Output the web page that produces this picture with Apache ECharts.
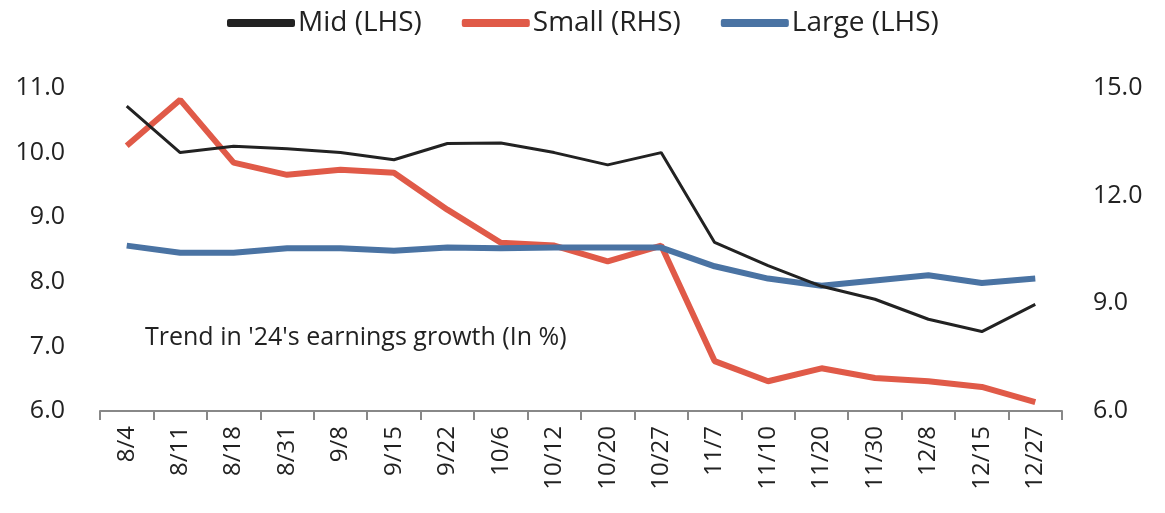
<!DOCTYPE html>
<html>
<head>
<meta charset="utf-8">
<script src="https://cdn.jsdelivr.net/npm/echarts@6/dist/echarts.min.js"></script>
<style>
  html, body { margin: 0; padding: 0; background: #fff; }
  #chart { width: 1165px; height: 513px; }
</style>
</head>
<body>
<div id="chart"></div>
<script>
// 数据
const dates = ['8/4', '8/11', '8/18', '8/31', '9/8', '9/15', '9/22', '10/6', '10/12',
  '10/20', '10/27', '11/7', '11/10', '11/20', '11/30', '12/8', '12/15', '12/27'];
const midLhs = [10.72, 10.0, 10.1, 10.06, 10.0, 9.89, 10.14, 10.15, 10.0,
  9.81, 10.0, 8.61, 8.25, 7.93, 7.73, 7.42, 7.23, 7.65];
const smallRhs = [13.39, 14.67, 12.92, 12.58, 12.72, 12.64, 11.61, 10.69, 10.61,
  10.17, 10.61, 7.39, 6.83, 7.19, 6.92, 6.83, 6.67, 6.25];
const largeLhs = [8.56, 8.45, 8.45, 8.52, 8.52, 8.48, 8.53, 8.52, 8.53,
  8.53, 8.53, 8.24, 8.05, 7.94, 8.02, 8.1, 7.98, 8.05];
const noteText = "Trend in '24's earnings growth (In %)";

const FONT = "'Open Sans', 'Noto Sans', sans-serif";

const myChart = echarts.init(document.getElementById('chart'));

const option = {
  animation: false,
  textStyle: { fontFamily: FONT },
  legend: {
    top: 4,
    left: 222,
    itemWidth: 68,
    itemHeight: 8,
    itemGap: 40,
    icon: 'roundRect',
    textStyle: { fontSize: 28, color: '#222', fontFamily: FONT, padding: [0, 0, 0, -2] },
    data: ['Mid (LHS)', 'Small (RHS)', 'Large (LHS)']
  },
  grid: {
    left: 100,
    right: 103,
    top: 88,
    bottom: 102,
    containLabel: false
  },
  xAxis: {
    type: 'category',
    data: dates,
    boundaryGap: true,
    axisLine: { lineStyle: { color: '#888', width: 2 } },
    axisTick: { show: true, interval: 0, length: 9, lineStyle: { color: '#888', width: 2 } },
    axisLabel: {
      interval: 0,
      rotate: 90,
      fontSize: 24,
      color: '#222',
      margin: 15,
      fontFamily: FONT
    },
    splitLine: { show: false }
  },
  yAxis: [
    {
      type: 'value',
      min: 6,
      max: 11,
      interval: 1,
      axisLine: { show: false },
      axisTick: { show: false },
      splitLine: { show: false },
      axisLabel: {
        fontSize: 25,
        color: '#222',
        margin: 35,
        fontFamily: FONT,
        formatter: (v) => v.toFixed(1)
      }
    },
    {
      type: 'value',
      min: 6,
      max: 15,
      interval: 3,
      axisLine: { show: false },
      axisTick: { show: false },
      splitLine: { show: false },
      axisLabel: {
        fontSize: 25,
        color: '#222',
        margin: 31,
        fontFamily: FONT,
        formatter: (v) => v.toFixed(1)
      }
    }
  ],
  graphic: [
    {
      type: 'text',
      left: 145,
      top: 325,
      style: {
        text: noteText,
        fontSize: 25,
        fill: '#222',
        fontFamily: FONT
      }
    }
  ],
  series: [
    {
      name: 'Mid (LHS)',
      type: 'line',
      yAxisIndex: 0,
      data: midLhs,
      symbol: 'none',
      lineStyle: { color: '#222222', width: 3 },
      itemStyle: { color: '#222222' },
      z: 4
    },
    {
      name: 'Small (RHS)',
      type: 'line',
      yAxisIndex: 1,
      data: smallRhs,
      symbol: 'none',
      lineStyle: { color: '#E05A48', width: 6 },
      itemStyle: { color: '#E05A48' },
      z: 2
    },
    {
      name: 'Large (LHS)',
      type: 'line',
      yAxisIndex: 0,
      data: largeLhs,
      symbol: 'none',
      lineStyle: { color: '#4A73A3', width: 6 },
      itemStyle: { color: '#4A73A3' },
      z: 3
    }
  ]
};

myChart.setOption(option);
</script>
</body>
</html>
